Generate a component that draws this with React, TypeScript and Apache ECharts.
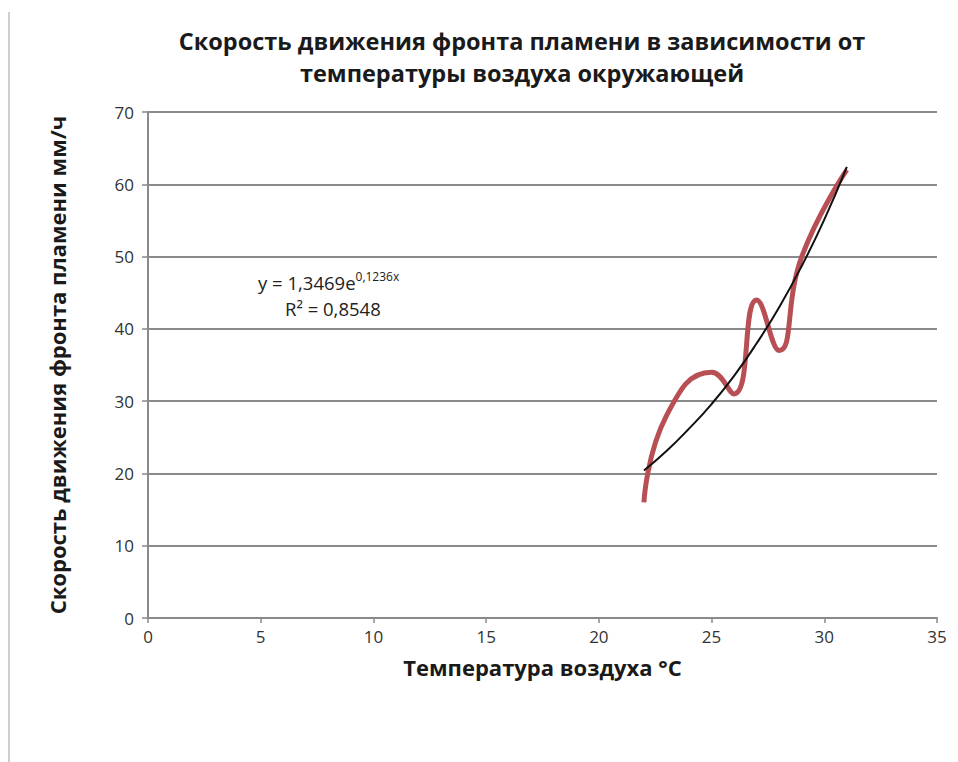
import React, { useEffect, useRef } from "react";
import * as echarts from "echarts";

const titleLines = ["Скорость движения фронта пламени в зависимости от", "температуры воздуха окружающей"];
const xAxisName = "Температура воздуха °C";
const yAxisName = "Скорость движения фронта пламени мм/ч";

const temps = [22, 23, 25, 26, 27, 28, 29, 31];
const speeds = [16, 28, 34, 31, 44, 37, 50, 62];

const trendX = [22, 23, 24, 25, 26, 27, 28, 29, 30, 31];
const trendY = [20.4, 23.1, 26.2, 29.6, 33.5, 38.0, 43.0, 48.7, 55.1, 62.4];

const equationText = "y = 1,3469e";
const equationExp = "0,1236x";
const r2Text = "R² = 0,8548";

const FONT = "'Open Sans', sans-serif";

export default function App() {
  const ref = useRef<HTMLDivElement>(null);
  useEffect(() => {
    if (!ref.current) return;
    const chart = echarts.init(ref.current, undefined, { renderer: "svg" });
    chart.setOption({
      animation: false,
      backgroundColor: "#ffffff",
      title: {
        text: titleLines.join("\n"),
        left: 517,
        textAlign: "center",
        top: 20,
        textStyle: { fontFamily: FONT, fontSize: 23.5, fontWeight: "bold", color: "#1a1a1a", lineHeight: 32 },
      },
      grid: { left: 148, right: 21, top: 112, bottom: 144 },
      xAxis: {
        type: "value",
        min: 0,
        max: 35,
        interval: 5,
        name: xAxisName,
        nameLocation: "middle",
        nameGap: 38,
        nameTextStyle: { fontFamily: FONT, fontSize: 22, fontWeight: "bold", color: "#1a1a1a" },
        axisLine: { lineStyle: { color: "#8a8a8a", width: 2 } },
        axisTick: { show: true, length: 5, lineStyle: { color: "#8a8a8a", width: 1.5 } },
        axisLabel: { fontFamily: FONT, fontSize: 17, color: "#333", margin: 10 },
        splitLine: { show: false },
      },
      yAxis: {
        type: "value",
        min: 0,
        max: 70,
        interval: 10,
        name: yAxisName,
        nameLocation: "middle",
        nameGap: 80,
        nameTextStyle: { fontFamily: FONT, fontSize: 22, fontWeight: "bold", color: "#1a1a1a" },
        axisLine: { show: true, lineStyle: { color: "#8a8a8a", width: 2 } },
        axisTick: { show: true, length: 6, lineStyle: { color: "#8a8a8a", width: 1.5 } },
        axisLabel: { fontFamily: FONT, fontSize: 17, color: "#333", margin: 14 },
        splitLine: { show: true, lineStyle: { color: "#8a8a8a", width: 2 } },
      },
      series: [
        {
          type: "line",
          data: temps.map((t, i) => [t, speeds[i]]),
          smooth: 0.5,
          showSymbol: false,
          lineStyle: { color: "#b84f55", width: 5 },
          z: 2,
        },
        {
          type: "line",
          data: trendX.map((t, i) => [t, trendY[i]]),
          smooth: true,
          showSymbol: false,
          lineStyle: { color: "#111", width: 2 },
          z: 3,
        },
      ],
      graphic: [
        {
          type: "line",
          shape: { x1: 9, y1: 12, x2: 9, y2: 762 },
          style: { stroke: "#cfcfcf", lineWidth: 2 },
        },
        {
          type: "text",
          left: 258,
          top: 270,
          style: {
            text: "{a|" + equationText + "}{b|" + equationExp + "}",
            rich: {
              a: { fontFamily: FONT, fontSize: 18.5, fill: "#222" },
              b: { fontFamily: FONT, fontSize: 12, fill: "#222", verticalAlign: "top", padding: [0, 0, 12, 0] },
            },
          },
        },
        {
          type: "text",
          left: 285,
          top: 299,
          style: { text: r2Text, fontFamily: FONT, fontSize: 18.5, fill: "#222" },
        },
      ],
    });
    return () => chart.dispose();
  }, []);
  return <div ref={ref} style={{ width: 958, height: 762, position: "absolute", left: 0, top: 0 }} />;
}
